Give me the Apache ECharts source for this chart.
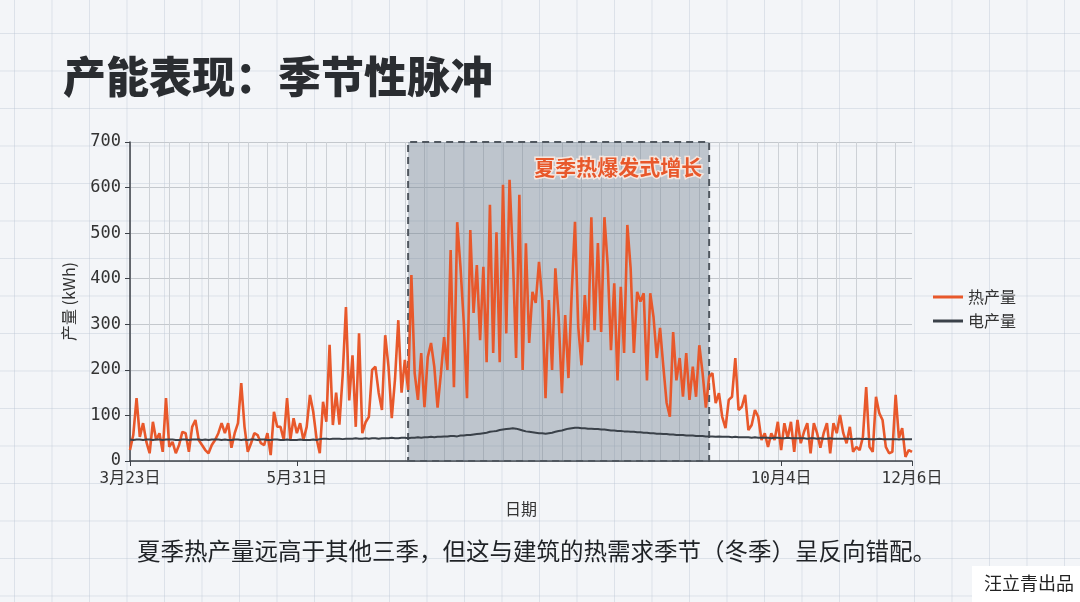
<!DOCTYPE html>
<html>
<head>
<meta charset="utf-8">
<script src="https://cdn.jsdelivr.net/npm/echarts@6/dist/echarts.min.js"></script>
<style>
html, body {
  margin: 0;
  padding: 0;
  width: 1080px;
  height: 602px;
  overflow: hidden;
  background-color: #f3f5f8;
  background-image:
    linear-gradient(to right, rgba(185, 196, 210, 0.4) 1px, transparent 1px),
    linear-gradient(to bottom, rgba(185, 196, 210, 0.4) 1px, transparent 1px);
  background-size: 37.5px 37.5px;
  background-position: 14px 33px;
}
#chart {
  width: 1080px;
  height: 602px;
}
</style>
</head>
<body>
<div id="chart"></div>
<script>
// 热产量 (kWh)，按点读取
const heatData = [
  24, 57, 138, 53, 83, 42, 17, 86, 46, 61, 20, 138, 31, 42, 17, 35, 64, 61, 20, 75,
  90, 46, 35, 24, 17, 35, 46, 61, 83, 61, 83, 29, 61, 83, 171, 75, 20, 39, 61, 57,
  39, 35, 61, 13, 108, 75, 75, 46, 138, 46, 94, 61, 83, 46, 75, 145, 108, 50, 17, 130,
  86,
  255, 79, 150, 80, 188, 338, 133, 232, 75, 280, 61, 85, 97, 200, 207, 150, 112, 276, 207, 94,
  180, 309, 150, 222, 156, 408, 193, 134, 237, 118, 228, 259, 207, 117, 190, 272, 200, 463, 162, 524,
  426, 305, 138, 507, 325, 430, 265, 426, 217, 562, 237, 502, 217, 606, 280, 617, 452, 226, 584,
  200, 478, 259, 371, 347, 437, 353, 138, 353, 200, 423, 316, 149, 320, 182, 369, 525, 294, 210, 364,
  261, 535, 287, 478, 283, 535, 430, 243, 390, 177, 382, 237, 518, 424, 237, 371, 350, 368, 177, 368,
  316, 226, 292, 207, 128, 97, 283, 177, 226, 141, 237, 134, 207, 141, 254, 193, 117, 185,
  193, 127, 149, 97, 72, 134, 141, 226, 112, 119, 145, 68, 79, 112, 97, 46, 61, 31, 61, 46,
  86, 24, 83, 50, 86, 20, 90, 39, 64, 83, 17, 83, 61, 29, 61, 83, 17, 83, 61, 101,
  61, 39, 75, 20, 31, 24, 53, 162, 31, 20, 141, 105, 90, 31, 17, 20, 145, 50, 72, 9,
  24, 20
];

// 电产量 (kWh)
const powerData = [
  47, 46, 47, 47, 46, 47, 47, 46, 47, 47, 46, 47, 47, 47, 46, 46, 47, 47, 46, 47,
  47, 47, 46, 47, 46, 47, 47, 47, 46, 47, 46, 46, 47, 47, 46, 47, 46, 47, 47, 46,
  47, 47, 46, 46, 47, 47, 46, 46, 47, 46, 46, 46, 47, 46, 46, 46, 47, 46,
  48, 49, 49, 48, 49, 49, 49, 48, 49, 49, 49, 50, 49, 49, 50, 49, 50, 50, 49, 50,
  50, 50, 51, 50, 50, 51, 51, 50,
  51, 51, 52, 51, 52, 52, 53, 52, 53, 53, 54, 54, 55, 55, 54, 56, 56, 57, 57, 58,
  59, 60, 61, 62, 64, 65, 66, 68, 69, 70, 71, 72,
  71, 69, 67, 65, 64, 63, 62, 61, 61, 60, 61,
  62, 64, 66, 67, 69, 71, 72, 73,
  73, 72, 72, 71, 71, 70, 70, 69, 69, 68, 67, 67, 66, 66, 65, 65,
  64, 64, 63, 63, 62, 62, 61, 61, 60, 60, 59, 59, 58, 58, 57, 57, 57, 56, 56, 56,
  55, 55, 55, 54, 54,
  54, 53, 54, 53, 53, 53, 52, 53, 52, 52, 52, 52, 51, 52, 51, 51, 51, 51, 50, 51,
  51, 50, 50, 51, 50, 50, 50, 50, 50, 49, 50, 50, 49, 50, 49, 49, 50, 49, 49, 49,
  49, 49, 49, 48, 49, 49, 48, 49, 48, 48, 48, 49, 48, 48, 48, 48, 48, 47, 48, 48,
  48, 48
];

// x 轴只标注这几个日期
const tickIndex = [0, 51, 199, 239];
const tickLabels = ["3月23日", "5月31日", "10月4日", "12月6日"];

// 高亮区间（夏季）
const summerRange = [85, 177];

const categories = heatData.map((v, i) => String(i));

const monoFont = "'DejaVu Sans Mono', 'Noto Sans CJK SC', monospace";
const cjkFont = "'Noto Sans CJK SC', sans-serif";

const chart = echarts.init(document.getElementById("chart"));

chart.setOption({
  animation: false,
  title: {
    text: "产能表现：季节性脉冲",
    left: 58,
    top: 50,
    textStyle: {
      fontFamily: cjkFont,
      fontSize: 43,
      fontWeight: 900,
      color: "#2a2d31"
    }
  },
  legend: {
    orient: "vertical",
    left: 928,
    top: 284,
    itemWidth: 30,
    itemHeight: 3,
    itemGap: 8,
    icon: "rect",
    textStyle: {
      fontFamily: cjkFont,
      fontSize: 16,
      color: "#333"
    },
    data: ["热产量", "电产量"]
  },
  grid: {
    left: 130,
    right: 168,
    top: 142,
    bottom: 141
  },
  xAxis: {
    type: "category",
    boundaryGap: false,
    data: categories,
    name: "日期",
    nameLocation: "middle",
    nameGap: 40,
    nameTextStyle: {
      fontFamily: cjkFont,
      fontSize: 16,
      color: "#333"
    },
    axisLine: { lineStyle: { color: "#3c4148", width: 1.5 } },
    axisTick: {
      interval: function (idx) { return tickIndex.indexOf(idx) >= 0; },
      length: 5,
      lineStyle: { color: "#3c4148" }
    },
    axisLabel: {
      interval: function (idx) { return tickIndex.indexOf(idx) >= 0; },
      formatter: function (val, idx) {
        const k = tickIndex.indexOf(idx);
        return k >= 0 ? tickLabels[k] : "";
      },
      fontFamily: monoFont,
      fontSize: 16,
      color: "#333",
      margin: 10
    },
    splitLine: {
      show: true,
      interval: function (idx) { return idx % 6 === 0; },
      lineStyle: { color: "#cdd1d6", width: 1 }
    }
  },
  yAxis: {
    type: "value",
    min: 0,
    max: 700,
    interval: 100,
    name: "产量 (kWh)",
    nameLocation: "middle",
    nameGap: 53,
    nameTextStyle: {
      fontFamily: cjkFont,
      fontSize: 16,
      color: "#333"
    },
    axisLine: { show: true, lineStyle: { color: "#3c4148", width: 1.5 } },
    axisTick: { show: true, length: 5, lineStyle: { color: "#3c4148" } },
    axisLabel: {
      fontFamily: monoFont,
      fontSize: 17,
      color: "#333",
      margin: 9
    },
    splitLine: { lineStyle: { color: "#c4c8cd", width: 1 } }
  },
  series: [
    {
      name: "热产量",
      type: "line",
      data: heatData,
      symbol: "none",
      lineStyle: { color: "#e8582b", width: 2.6 },
      itemStyle: { color: "#e8582b" },
      z: 3,
      markArea: {
        silent: true,
        itemStyle: {
          color: "rgba(110, 125, 140, 0.4)",
          borderColor: "#50575f",
          borderWidth: 2,
          borderType: [7, 5]
        },
        label: {
          show: true,
          position: "insideTopRight",
          distance: 8,
          offset: [0, 8],
          fontFamily: cjkFont,
          fontSize: 21,
          fontWeight: "bold",
          color: "#e8582b",
          textBorderColor: "rgba(255, 236, 226, 0.85)",
          textBorderWidth: 3
        },
        data: [[
          { name: "夏季热爆发式增长", xAxis: String(summerRange[0]) },
          { xAxis: String(summerRange[1]) }
        ]]
      }
    },
    {
      name: "电产量",
      type: "line",
      data: powerData,
      symbol: "none",
      lineStyle: { color: "#3a4149", width: 2 },
      itemStyle: { color: "#3a4149" },
      z: 4
    }
  ],
  graphic: [
    {
      type: "text",
      left: 137,
      top: 539,
      style: {
        text: "夏季热产量远高于其他三季，但这与建筑的热需求季节（冬季）呈反向错配。",
        fontFamily: cjkFont,
        fontSize: 23.5,
        fill: "#1f2226"
      }
    },
    {
      type: "rect",
      left: 972,
      top: 566,
      shape: { width: 108, height: 36 },
      style: { fill: "#ffffff" }
    },
    {
      type: "text",
      right: 6,
      top: 574,
      style: {
        text: "汪立青出品",
        fontFamily: cjkFont,
        fontSize: 18,
        fill: "#222"
      }
    }
  ]
});
</script>
</body>
</html>
